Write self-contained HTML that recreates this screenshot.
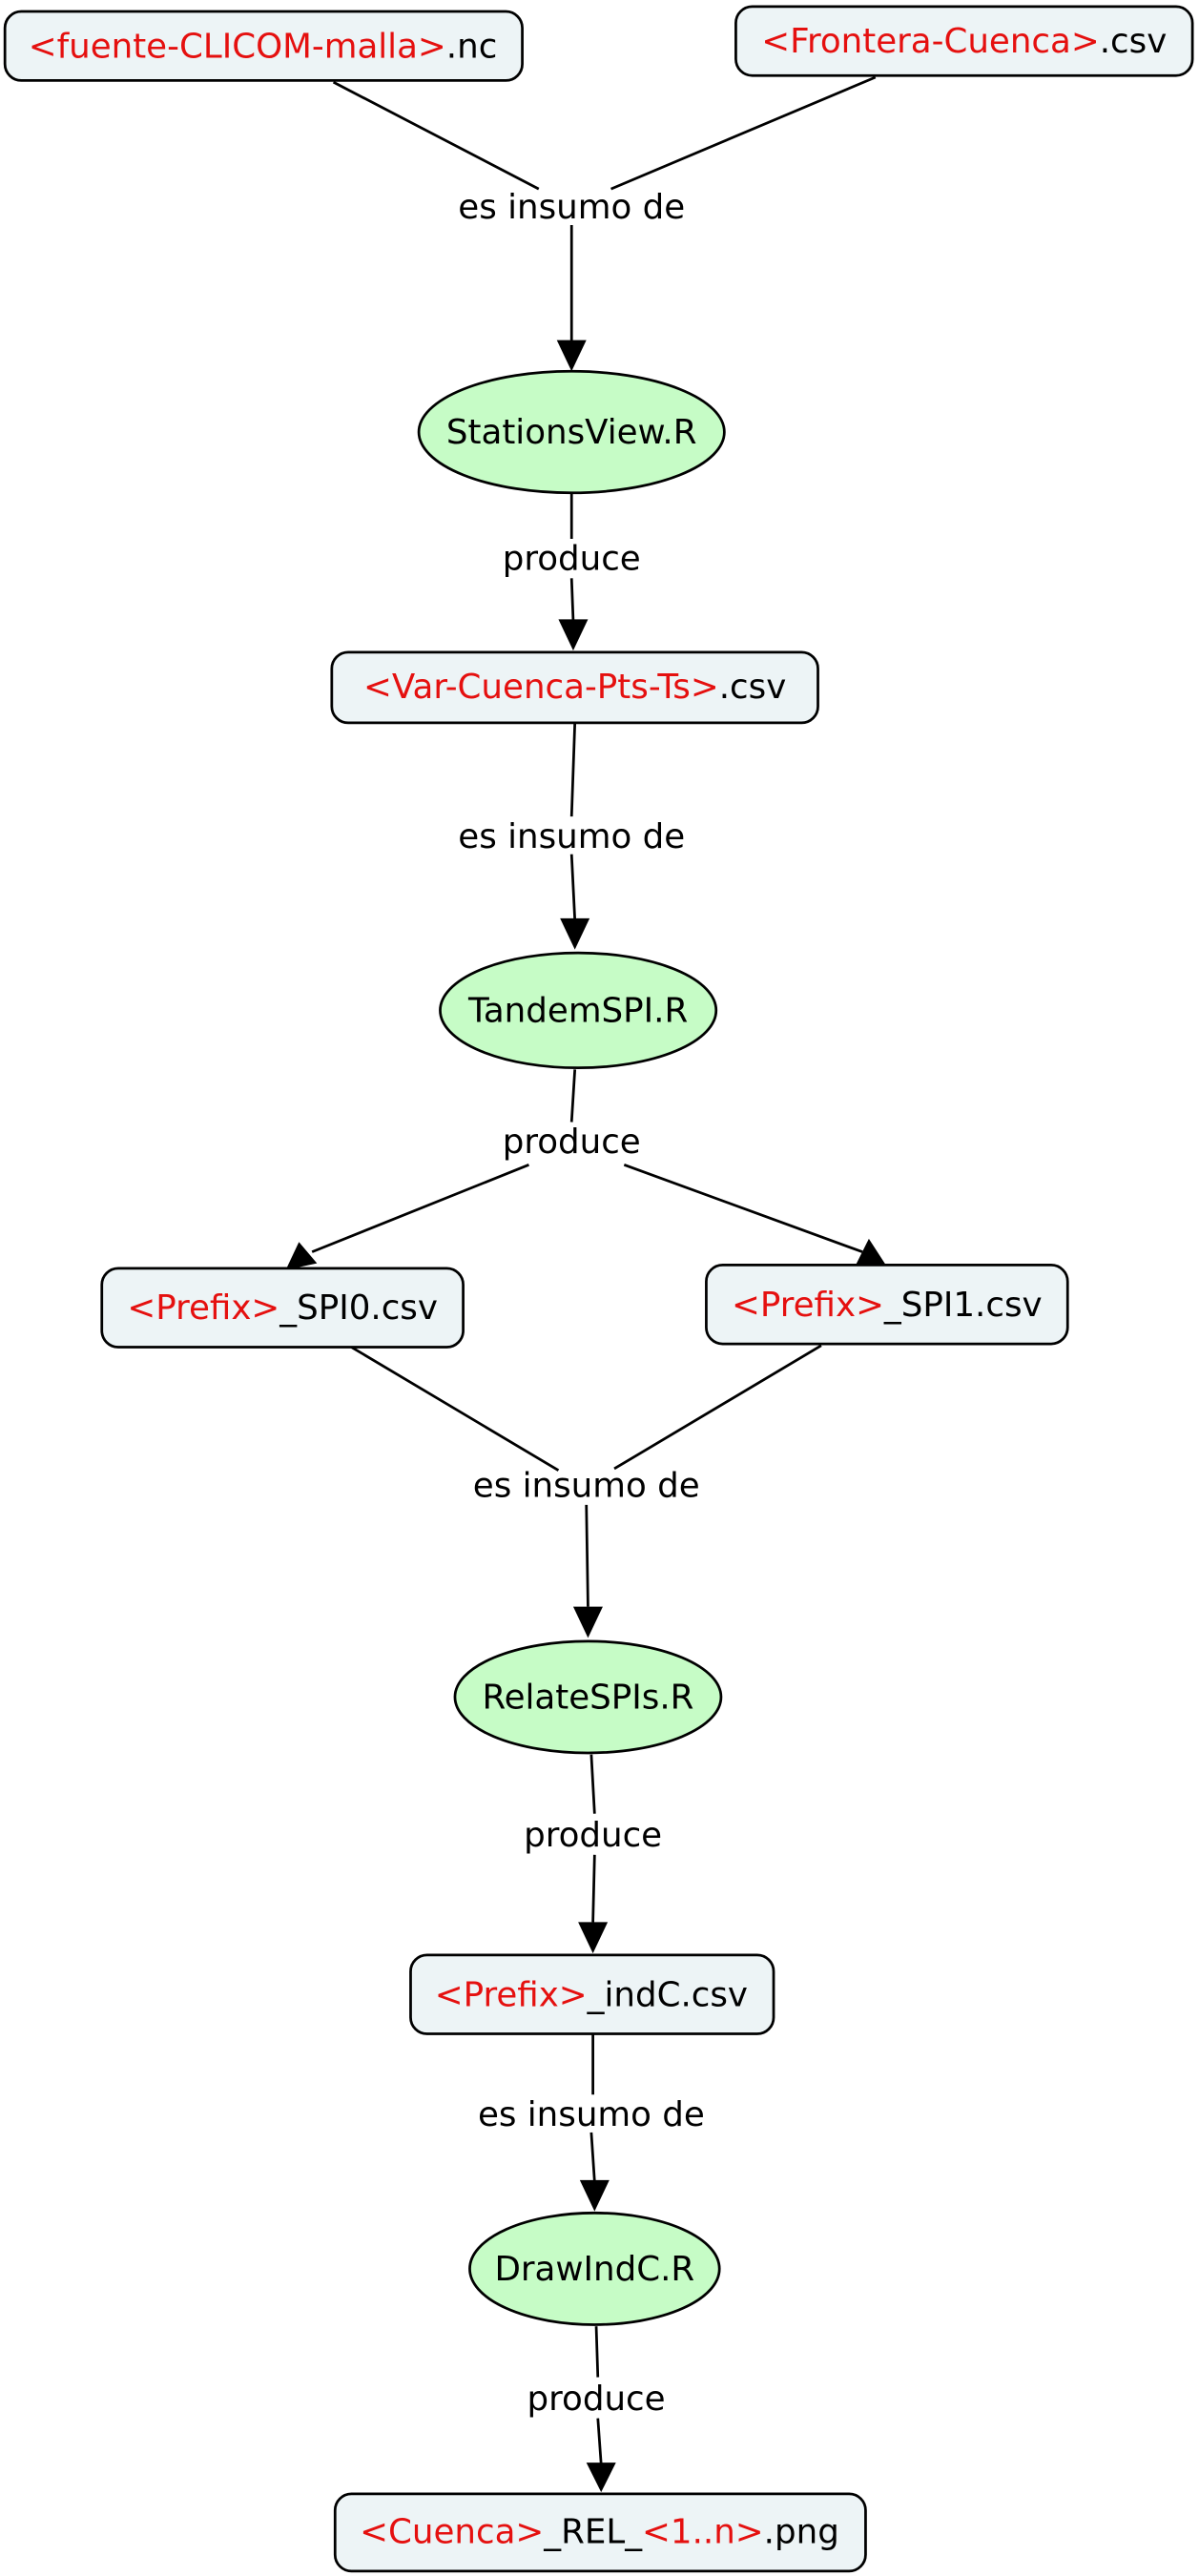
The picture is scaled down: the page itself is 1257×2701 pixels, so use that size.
<!DOCTYPE html>
<html><head><meta charset="utf-8"><style>
html,body{margin:0;padding:0;background:#fff;}
svg{display:block;}
text{font-family:"DejaVu Sans","Liberation Sans",sans-serif;font-size:20.7px;fill:#000;}
.r{fill:#e5100f;}
.b{fill:#edf4f6;stroke:#000;stroke-width:1.6;}
.e{fill:#c6fcc6;stroke:#000;stroke-width:1.6;}
.l{stroke:#000;stroke-width:1.6;fill:none;}
</style></head><body>
<svg width="1257" height="2701" viewBox="0 0 730 1568" preserveAspectRatio="none">
<rect class="b" x="3" y="7" width="315" height="42" rx="10"/>
<text x="160" y="35" text-anchor="middle"><tspan class="r">&lt;fuente-CLICOM-malla&gt;</tspan>.nc</text>
<rect class="b" x="448" y="4" width="278" height="42" rx="10"/>
<text x="587" y="32" text-anchor="middle"><tspan class="r">&lt;Frontera-Cuenca&gt;</tspan>.csv</text>

<path class="l" d="M203,50 L328,115 M533,47 L372,115 M348,137 L348,208"/>
<text x="348" y="133" text-anchor="middle">es insumo de</text>
<polygon points="339,207 357,207 348,226"/>

<ellipse class="e" cx="348" cy="263" rx="93" ry="37"/>
<text x="348" y="270" text-anchor="middle">StationsView.R</text>

<path class="l" d="M348,300 L348,328 M348,352 L349,378"/>
<text x="348" y="347" text-anchor="middle">produce</text>
<polygon points="340,377 358,377 349,396"/>

<rect class="b" x="202" y="397" width="296" height="43" rx="10"/>
<text x="350" y="425" text-anchor="middle"><tspan class="r">&lt;Var-Cuenca-Pts-Ts&gt;</tspan>.csv</text>

<path class="l" d="M350,440 L348,497 M348,520 L350,560"/>
<text x="348" y="516" text-anchor="middle">es insumo de</text>
<polygon points="341,559 359,559 350,578"/>

<ellipse class="e" cx="352" cy="615" rx="84" ry="35"/>
<text x="352" y="622" text-anchor="middle">TandemSPI.R</text>

<path class="l" d="M350,651 L348,683 M322,709 L190,762 M380,709 L525,762"/>
<text x="348" y="702" text-anchor="middle">produce</text>
<polygon points="174,773 182,756 193,769"/>
<polygon points="540,771 521,770 529,754"/>

<rect class="b" x="62" y="772" width="220" height="48" rx="10"/>
<text x="172" y="803" text-anchor="middle"><tspan class="r">&lt;Prefix&gt;</tspan>_SPI0.csv</text>
<rect class="b" x="430" y="770" width="220" height="48" rx="10"/>
<text x="540" y="801" text-anchor="middle"><tspan class="r">&lt;Prefix&gt;</tspan>_SPI1.csv</text>

<path class="l" d="M214,820 L340,895 M500,819 L374,894 M357,916 L358,978"/>
<text x="357" y="911" text-anchor="middle">es insumo de</text>
<polygon points="349,978 367,978 358,997"/>

<ellipse class="e" cx="358" cy="1033" rx="81" ry="34"/>
<text x="358" y="1040" text-anchor="middle">RelateSPIs.R</text>

<path class="l" d="M360,1068 L362,1104 M362,1129 L361,1170"/>
<text x="361" y="1124" text-anchor="middle">produce</text>
<polygon points="352,1170 370,1170 361,1189"/>

<rect class="b" x="250" y="1190" width="221" height="48" rx="10"/>
<text x="360" y="1221" text-anchor="middle"><tspan class="r">&lt;Prefix&gt;</tspan>_indC.csv</text>

<path class="l" d="M361,1238 L361,1275 M360,1298 L362,1328"/>
<text x="360" y="1294" text-anchor="middle">es insumo de</text>
<polygon points="353,1327 371,1327 362,1346"/>

<ellipse class="e" cx="362" cy="1381" rx="76" ry="34"/>
<text x="362" y="1388" text-anchor="middle">DrawIndC.R</text>

<path class="l" d="M363,1416 L364,1447 M364,1472 L366,1500"/>
<text x="363" y="1467" text-anchor="middle">produce</text>
<polygon points="357,1499 375,1499 366,1517"/>

<rect class="b" x="204" y="1518" width="323" height="47" rx="10"/>
<text x="365" y="1548" text-anchor="middle"><tspan class="r">&lt;Cuenca&gt;</tspan>_REL_<tspan class="r">&lt;1..n&gt;</tspan>.png</text>
</svg>
</body></html>
